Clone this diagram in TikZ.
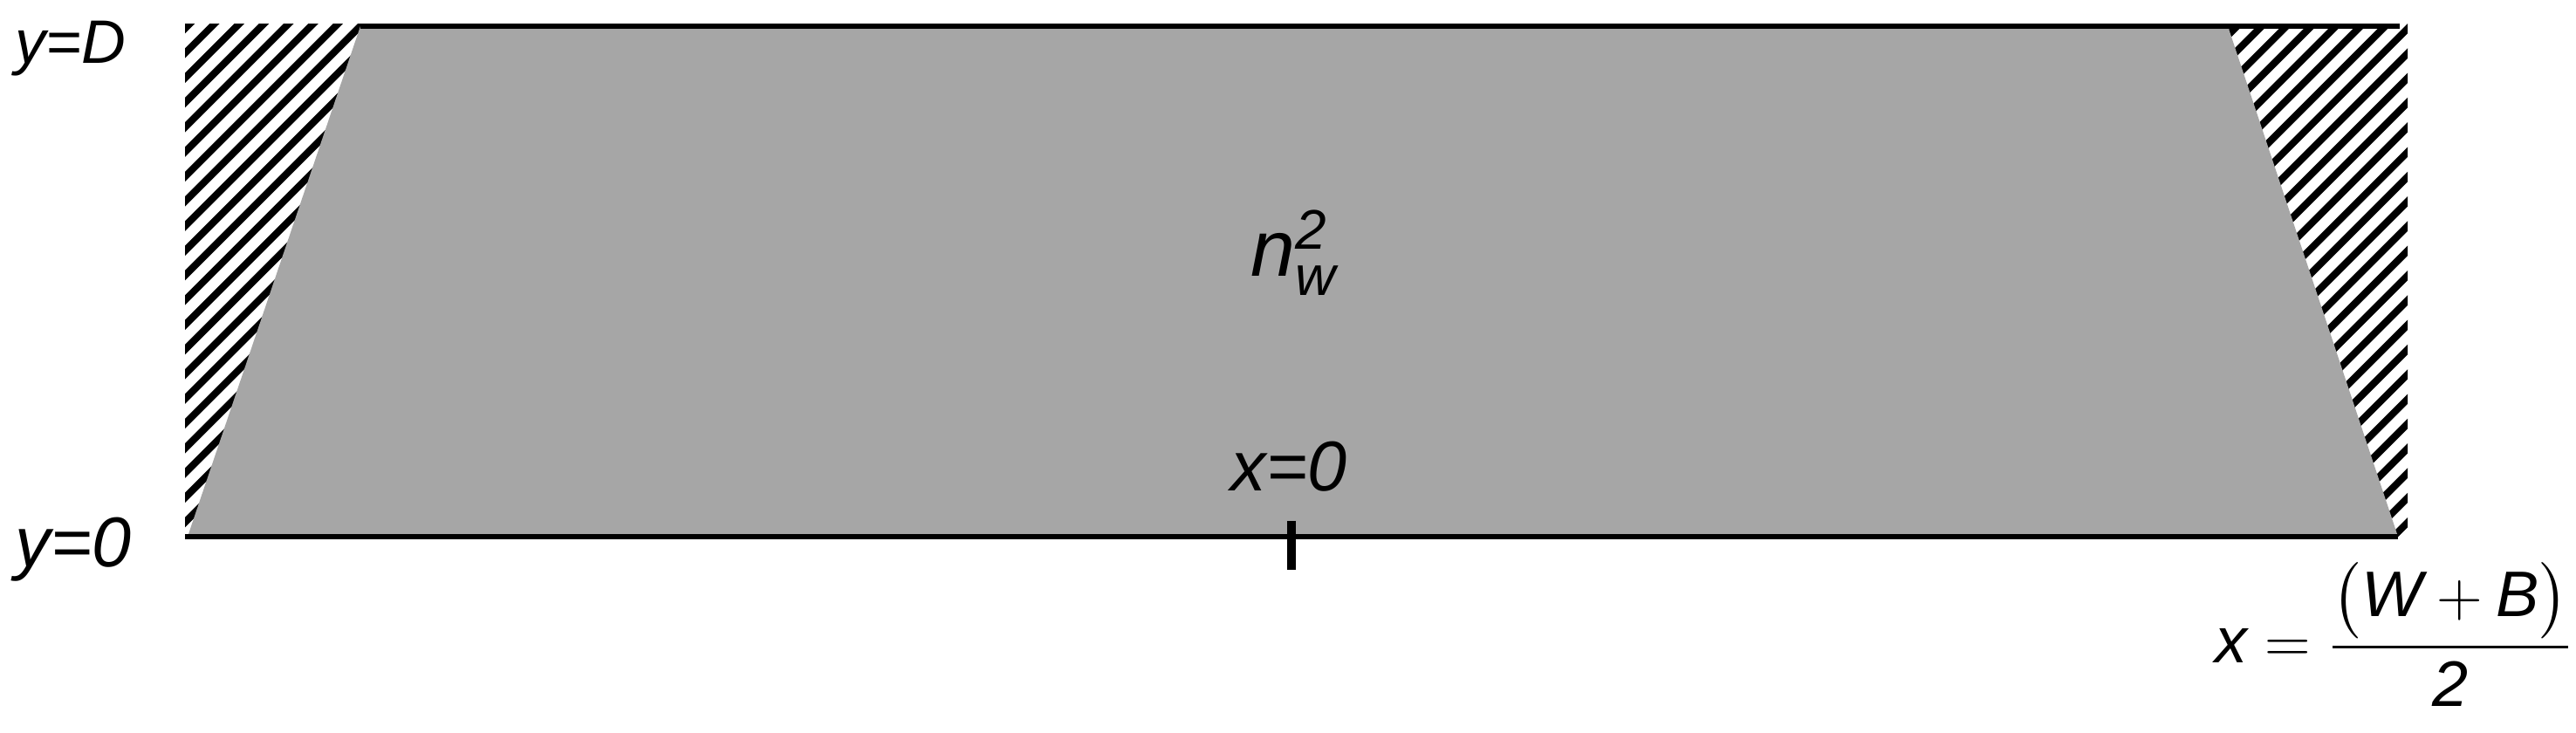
\documentclass[tikz,border=0pt]{standalone}
\usepackage{amsmath}
\usepackage{fontspec}
\setmainfont{Liberation Sans}
\usepackage{xcolor}
\usepackage{tikz}

\definecolor{coregrey}{RGB}{166,166,166}

\begin{document}
\begin{tikzpicture}[
      hatchline/.style={line width=2.3pt},
      edge/.style={line width=1.9pt},
      lbl/.style={inner sep=0pt, anchor=base west, font=\itshape\fontsize{23}{27}\selectfont}
    ]
    \useasboundingbox (0,0) rectangle (29.52,8.40);

    \coordinate (tl) at (4.13,8.10);
    \coordinate (tr) at (25.53,8.10);
    \coordinate (br) at (27.48,2.25);
    \coordinate (bl) at (2.15,2.25);
    \coordinate (topend) at (27.50,8.10);
    \coordinate (botstart) at (2.12,2.25);
    \coordinate (ticktop) at (14.80,2.43);
    \coordinate (tickbot) at (14.80,1.87);

    % hatched region
    \begin{scope}
      \clip (2.12,2.25) rectangle (27.59,8.12);
      \foreach \k in {-2,...,112}
        \draw[hatchline] ({-5.67+0.283*\k},0) -- ++(9,9);
    \end{scope}

    % core
    \fill[coregrey] (tl) -- (tr) -- (br) -- (bl) -- cycle;
    \draw[edge] (tl) -- (topend);
    \draw[edge] (botstart) -- (br);
    \draw[line width=2.8pt] (ticktop) -- (tickbot);

    \node[lbl, font=\itshape\fontsize{20}{24}\selectfont] (yd) at (0.17,7.67) {y=D};
    \node[lbl] (yzero) at (0.17,1.90) {y=0};
    \node[lbl] (xzero) at (14.10,2.77) {x=0};
    \node[lbl, font=\itshape\fontsize{26}{30}\selectfont] (index) at (14.33,5.23)
      {$\textit{n}^{\textit{2}}_{\textit{w}}$};
    \node[lbl, font=\fontsize{21}{25}\selectfont] (xedge) at (25.38,0.80)
      {$\displaystyle \textit{x}=\frac{\bigl(\textit{W}+\textit{B}\bigr)}{\textit{2}}$};
  \end{tikzpicture}
\end{document}
